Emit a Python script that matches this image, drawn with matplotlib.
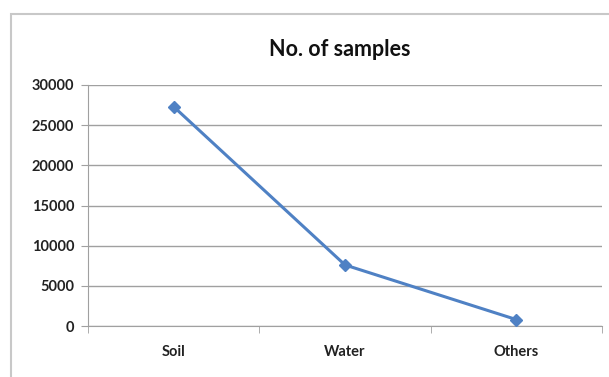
import matplotlib.pyplot as plt
from matplotlib.patches import Rectangle

categories = ["Soil", "Water", "Others"]
samples = [27300, 7600, 800]
yticks = [0, 5000, 10000, 15000, 20000, 25000, 30000]

plt.rcParams['font.family'] = ['Lato', 'DejaVu Sans']

W, H = 609, 377
fig = plt.figure(figsize=(W / 100, H / 100), dpi=100)

# outer chart border (cut off at right and bottom like the screenshot)
fig.patches.append(Rectangle((11 / W, -0.1), 1.2, (H - 14) / H + 0.1,
                             transform=fig.transFigure, fill=False,
                             edgecolor='#c8c8c8', linewidth=1.5))

ax = fig.add_axes([88 / W, (H - 326) / H, (602 - 88) / W, (326 - 85) / H])
x = list(range(len(categories)))
ax.plot(x, samples, color='#4F81C4', linewidth=2.2, marker='D',
        markersize=6, zorder=3)

ax.set_xlim(-0.5, len(categories) - 0.5)
ax.set_ylim(0, 30000)
ax.set_yticks(yticks)
ax.set_yticklabels([str(v) for v in yticks], fontsize=10.5, fontweight='bold',
                   color='#222222')
ax.set_xticks(x)
ax.set_xticklabels(categories, fontsize=10.5, fontweight='bold', color='#222222')
ax.set_xticks([i - 0.5 for i in range(len(categories) + 1)], minor=True)

ax.grid(axis='y', color='#a0a0a0', linewidth=1)
ax.set_axisbelow(True)
for s in ['top', 'right']:
    ax.spines[s].set_visible(False)
for s in ['left', 'bottom']:
    ax.spines[s].set_color('#a0a0a0')
ax.tick_params(axis='y', length=5, color='#a0a0a0', pad=5)
ax.tick_params(axis='x', which='major', length=0, pad=14)
ax.tick_params(axis='x', which='minor', length=5, color='#a0a0a0')

fig.text(340 / W, 1 - 50 / H, "No. of samples", ha='center',
         va='center', fontsize=15.5, fontweight='bold', color='#111111')

fig.savefig('out.png', dpi=100)
